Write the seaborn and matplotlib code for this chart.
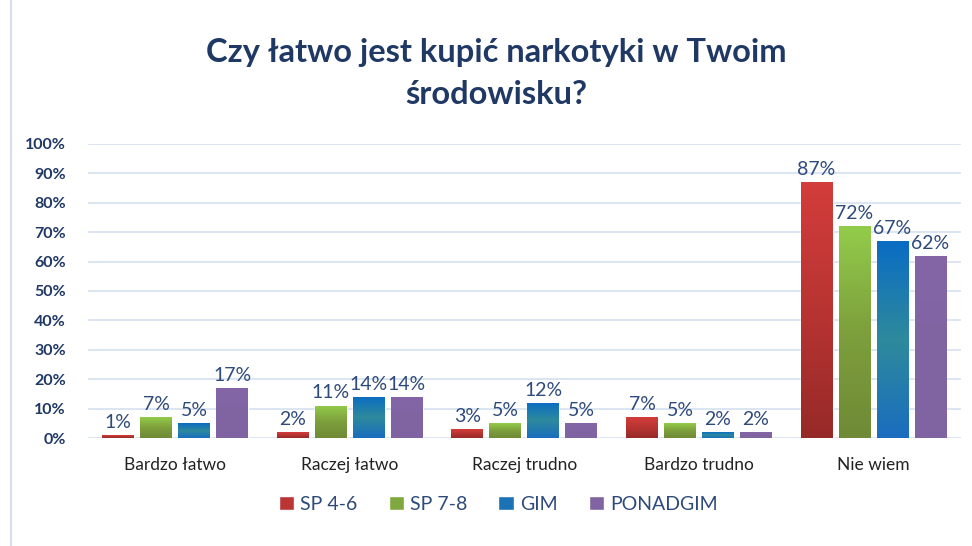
import matplotlib
matplotlib.use("Agg")
import matplotlib.pyplot as plt
import seaborn as sns
import pandas as pd
import numpy as np
from matplotlib.patches import Rectangle
from matplotlib.colors import LinearSegmentedColormap

categories = ["Bardzo łatwo", "Raczej łatwo", "Raczej trudno", "Bardzo trudno", "Nie wiem"]
series = ["SP 4-6", "SP 7-8", "GIM", "PONADGIM"]
sp46 = [1, 2, 3, 7, 87]
sp78 = [7, 11, 5, 5, 72]
gim = [5, 14, 12, 2, 67]
ponadgim = [17, 14, 5, 2, 62]
yticks = [0, 10, 20, 30, 40, 50, 60, 70, 80, 90, 100]
title = "Czy łatwo jest kupić narkotyki w Twoim\nśrodowisku?"

colors = ["#bb3535", "#80a83f", "#1b72b5", "#8064a2"]
grads = [["#962a28", "#b83432", "#d33d3b"],
         ["#6f8a36", "#7d9f3c", "#93cc4b"],
         ["#1a6dbf", "#2e8a9c", "#0a6cc4"],
         ["#8064a2", "#8064a2", "#8466a6"]]
navy = "#1f3864"

rows = []
for name, vals in zip(series, [sp46, sp78, gim, ponadgim]):
    for c, v in zip(categories, vals):
        rows.append({"kat": c, "seria": name, "val": v})
df = pd.DataFrame(rows)

sns.set_theme(style="white")
plt.rcParams['font.family'] = ['Lato', 'DejaVu Sans']

fig = plt.figure(figsize=(9.72, 5.46), dpi=100)
ax = fig.add_axes([0.0905, 0.1978, 0.898, 0.5385])

sns.barplot(data=df, x="kat", y="val", hue="seria", order=categories,
            hue_order=series, palette=colors, width=0.87, gap=0.16,
            ax=ax, legend=True, saturation=1, zorder=3)

ax.set_ylim(0, 100)
ax.set_xlim(-0.5, 4.5)

# gradient fill clipped to each bar
grad = np.linspace(0, 1, 256).reshape(-1, 1)
for cont, g in zip(ax.containers, grads):
    cmap = LinearSegmentedColormap.from_list("g", g)
    for bar in cont:
        x0, y0 = bar.get_x(), bar.get_y()
        w, hgt = bar.get_width(), bar.get_height()
        im = ax.imshow(grad, cmap=cmap, aspect="auto", origin="lower",
                       extent=(x0, x0 + w, y0, y0 + hgt), zorder=3.5)
        im.set_clip_path(bar)

ax.set_ylim(0, 100)
ax.set_xlim(-0.5, 4.5)
ax.set_yticks(yticks)
ax.set_yticklabels([f"{t}%" for t in yticks], fontsize=11.5, fontweight="bold", color=navy)
ax.tick_params(axis="y", length=0, pad=16)
ax.tick_params(axis="x", length=0, pad=14, labelsize=12.5, labelcolor="#222222")
ax.set_xlabel("")
ax.set_ylabel("")
for s in ax.spines.values():
    s.set_visible(False)
ax.yaxis.grid(True, color="#d6e0f0", linewidth=1.2, zorder=0)
ax.set_axisbelow(True)

for cont in ax.containers:
    ax.bar_label(cont, fmt="%d%%", padding=3, fontsize=14, color="#2e4a7a", zorder=5)

h, l = ax.get_legend_handles_labels()
ax.legend(h, l, loc="center", bbox_to_anchor=(0.47, -0.225), ncol=4, frameon=False,
          fontsize=14, labelcolor="#2e4a7a", handlelength=0.8, handleheight=0.8,
          columnspacing=1.6, handletextpad=0.3)

fig.text(0.511, 0.865, title, ha="center", va="center", fontsize=23.5,
         fontweight="bold", color=navy, linespacing=1.55)

fig.patches.append(Rectangle((0.011, -0.01), 0.99, 1.02, transform=fig.transFigure,
                             fill=False, edgecolor="#d0d8e8", linewidth=1.2))

fig.savefig("out.png", dpi=100)
